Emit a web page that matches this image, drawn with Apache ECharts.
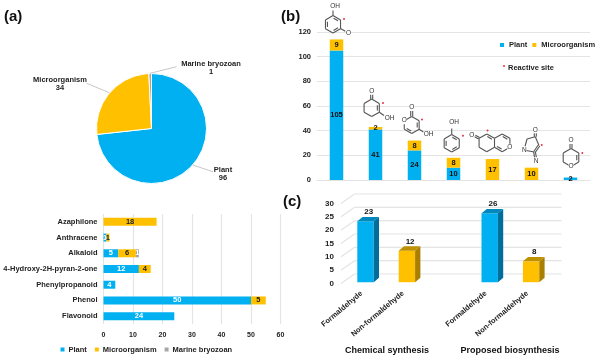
<!DOCTYPE html>
<html><head><meta charset="utf-8">
<style>html,body{margin:0;padding:0;background:#fff}#c{width:600px;height:360px}</style>
<script src="https://cdn.jsdelivr.net/npm/echarts@6/dist/echarts.min.js"></script>
</head><body><div id="c"></div>
<script>
const sourceNames = ['Plant', 'Microorganism', 'Marine bryozoan'];
const sourceTotals = [96, 34, 1];

const classNames = ['Flavonoid', 'Phenol', 'Phenylpropanoid', '4-Hydroxy-2H-pyran-2-one', 'Alkaloid', 'Anthracene', 'Azaphilone'];
const classPlant = [24, 50, 4, 12, 5, 1, 0];
const classMicro = [0, 5, 0, 4, 6, 1, 18];
const classMarine = [0, 0, 0, 0, 1, 0, 0];

const scaffoldNames = ['Scaffold 1', 'Scaffold 2', 'Scaffold 3', 'Scaffold 4', 'Scaffold 5', 'Scaffold 6', 'Scaffold 7'];
const scaffoldPlant = [105, 41, 24, 10, 0, 0, 2];
const scaffoldMicro = [9, 2, 8, 8, 17, 10, 0];

const synthesisNames = ['Formaldehyde', 'Non-formaldehyde', '', 'Formaldehyde', 'Non-formaldehyde'];
const synthesisValues = [23, 12, null, 26, 8];
const synthesisTicks = [0, 5, 10, 15, 20, 25, 30];

const BLUE = '#00B0F0', GOLD = '#FFC000', GREY = '#A6A6A6', GRID = '#E4E4E4', INK = '#1a1a1a';
const FONT = '"Liberation Sans", Arial, sans-serif';
const txt = (size, color) => ({ fontFamily: FONT, fontWeight: 'bold', fontSize: size, color: color || INK });
const hide0 = p => (p.value ? String(p.value) : '');

/* ---------- molecule line drawings (decoration) ---------- */
const BOND = { stroke: '#555', lineWidth: 1.1, fill: null };
const line = (a, b) => ({ type: 'line', silent: true, shape: { x1: a[0], y1: a[1], x2: b[0], y2: b[1] }, style: BOND, z: 5 });
const label = (s, x, y) => ({ type: 'text', silent: true, z: 6, style: { text: s, x, y, align: 'center', verticalAlign: 'middle', font: '6.5px ' + FONT, fill: '#333', backgroundColor: '#fff' } });
const dot = (x, y) => ({ type: 'circle', silent: true, z: 6, shape: { cx: x, cy: y, r: 1 }, style: { fill: '#E8324A' } });
function hexPts(cx, cy, r) {
  const pts = [];
  for (let i = 0; i < 6; i++) { const t = (-90 + 60 * i) * Math.PI / 180; pts.push([cx + r * Math.cos(t), cy + r * Math.sin(t)]); }
  return pts;
}
function inner(a, b, c, f) {
  const sh = p => [c[0] + (p[0] - c[0]) * f, c[1] + (p[1] - c[1]) * f];
  const A = sh(a), B = sh(b);
  const m = (u, v, k) => [u[0] + (v[0] - u[0]) * k, u[1] + (v[1] - u[1]) * k];
  return line(m(A, B, 0.1), m(A, B, 0.9));
}
function ring(cx, cy, r, dbl, skip) {
  const p = hexPts(cx, cy, r), out = [];
  for (let i = 0; i < 6; i++) {
    if (skip && skip.includes(i)) continue;
    out.push(line(p[i], p[(i + 1) % 6]));
    if (dbl.includes(i)) out.push(inner(p[i], p[(i + 1) % 6], [cx, cy], 0.74));
  }
  return out;
}
function dblBond(a, b, w) {
  const dx = b[0] - a[0], dy = b[1] - a[1], L = Math.hypot(dx, dy), nx = -dy / L * w, ny = dx / L * w;
  return [line([a[0] + nx, a[1] + ny], [b[0] + nx, b[1] + ny]), line([a[0] - nx, a[1] - ny], [b[0] - nx, b[1] - ny])];
}
const mols = [
  ...ring(333, 24.3, 8.7, [0, 2, 4]), line([333, 15.6], [333, 10.5]), label('OH', 335, 6.5),
  line([340.5, 28.6], [345.3, 31.2]), label('O', 348.5, 33), dot(344, 19),

  ...ring(371.7, 107.8, 8.8, [1]), ...dblBond([371.7, 99], [371.7, 94.5], 1), label('O', 371.7, 91),
  line([379.3, 112.2], [384, 115.5]), label('OH', 389.5, 118.7), dot(383, 103),

  ...ring(411.7, 125, 8.6, [1, 3]), ...dblBond([411.7, 116.4], [411.7, 111], 1), label('O', 411.7, 107.5),
  label('O', 404.2, 120.7),
  line([419.1, 129.3], [423.5, 132]), label('OH', 428.5, 134.3), dot(422, 119.5),

  ...ring(451.7, 143.3, 8.7, [0, 2, 4]), line([451.7, 134.6], [451.7, 128.5]), label('OH', 454, 122.5), dot(463, 135.7),

  ...ring(486.8, 142.8, 8.9, [0]), ...ring(502.2, 142.8, 8.9, [0, 3], [4]),
  ...dblBond([479.1, 138.3], [475, 136], 0.9), label('O', 471.7, 135), dot(487.5, 130.5),
  label('O', 509.9, 147.3),

  line([527, 139], [535.3, 136.7]), line([535.3, 136.7], [539, 145.5]), ...dblBond([539, 145.5], [534.5, 152], 0.9),
  line([534.5, 152], [526, 150.5]), line([527, 139], [525, 146.5]), ...dblBond([535.3, 136.7], [535.3, 132.5], 1),
  ...dblBond([534.5, 152], [535.5, 157.5], 0.9), label('O', 535.3, 129.8), label('N', 524.3, 150), label('N', 536, 161), dot(541.7, 145),

  ...ring(571, 157.6, 9, [1]), ...dblBond([571, 148.6], [571, 144], 1),
  label('O', 571, 140.5), label('O', 571, 166.6), dot(582.3, 153),
];

/* leader lines of the pie labels */
const leader = (a, b) => ({ type: 'line', silent: true, z: 4, shape: { x1: a[0], y1: a[1], x2: b[0], y2: b[1] }, style: { stroke: '#C8C8C8', lineWidth: 1 } });

const wallSeries = {
  type: 'custom', xAxisIndex: 2, yAxisIndex: 2, silent: true, z: 1,
  data: synthesisTicks.map(t => [0, t]),
  encode: { y: 1 },
  renderItem(params, api) {
    const y = api.coord([0, api.value(1)])[1];
    const x0 = params.coordSys.x, w = params.coordSys.width;
    const st = { stroke: GRID, lineWidth: 1.2, fill: null };
    return { type: 'group', children: [
      { type: 'line', shape: { x1: x0, y1: y, x2: x0 + 13.5, y2: y - 9.5 }, style: st },
      { type: 'line', shape: { x1: x0 + 13.5, y1: y - 9.5, x2: x0 + w + 13.5, y2: y - 9.5 }, style: st },
    ] };
  },
};

function box3d(front, side, top) {
  return function (params, api) {
    const c = api.coord([api.value(0), api.value(1)]);
    const b = api.coord([api.value(0), 0]);
    const L = c[0] - 4.4, R = c[0] + 12, T = c[1] - 0.8, B = b[1] - 1.3, dx = 5.3, dy = 4.4;
    return { type: 'group', children: [
      { type: 'rect', shape: { x: L, y: T, width: R - L, height: B - T }, style: { fill: front } },
      { type: 'polygon', shape: { points: [[R, T], [R + dx, T - dy], [R + dx, B - dy], [R, B]] }, style: { fill: side } },
      { type: 'polygon', shape: { points: [[L, T], [L + dx, T - dy], [R + dx, T - dy], [R, T]] }, style: { fill: top } },
      { type: 'text', style: { text: String(api.value(1)), x: c[0] + 7, y: T - dy - 5, align: 'center', verticalAlign: 'middle', font: 'bold 8px ' + FONT, fill: '#111' } },
    ] };
  };
}
const synthData = pick => synthesisValues.map((v, i) => [i, v]).filter(d => d[1] != null && pick(d[0]));

const option = {
  backgroundColor: '#fff',
  animation: false,
  title: [
    { text: '(a)', left: 4, top: 9, padding: 0, textStyle: txt(15, '#111') },
    { text: '(b)', left: 281, top: 9, padding: 0, textStyle: txt(15, '#111') },
    { text: '(c)', left: 283, top: 194, padding: 0, textStyle: txt(15, '#111') },
  ],
  legend: [
    { left: 60.5, top: 345.5, itemWidth: 4, itemHeight: 4, itemGap: 8, padding: 0, icon: 'rect',
      data: sourceNames, textStyle: { ...txt(7.5, '#222'), padding: [0, 0, 0, -1] } },
    { left: 500, top: 41, itemWidth: 4, itemHeight: 4, itemGap: 5, padding: 0, icon: 'rect',
      data: ['Plant', 'Microorganism'], textStyle: txt(7.5, '#222') },
  ],
  grid: [
    { left: 103.5, top: 214, width: 177, height: 110 },
    { left: 317, top: 32, width: 273, height: 148 },
    { left: 341, top: 203.5, width: 207, height: 80 },
  ],
  xAxis: [
    { gridIndex: 0, type: 'value', min: 0, max: 60, interval: 10, axisLine: { show: false }, axisTick: { show: false },
      splitLine: { lineStyle: { color: GRID, width: 1.2 } }, axisLabel: { ...txt(7, '#222'), margin: 8 } },
    { gridIndex: 1, type: 'category', data: scaffoldNames, axisLine: { lineStyle: { color: GRID, width: 1.2 } }, axisTick: { show: false }, axisLabel: { show: false } },
    { gridIndex: 2, type: 'category', data: synthesisNames, axisLine: { show: false }, axisTick: { show: false },
      axisLabel: { ...txt(7.5, '#222'), rotate: 40, interval: 0, margin: 9 } },
  ],
  yAxis: [
    { gridIndex: 0, type: 'category', data: classNames, axisLine: { show: false }, axisTick: { show: false },
      axisLabel: { ...txt(7.5, '#222'), margin: 6, interval: 0 } },
    { gridIndex: 1, type: 'value', min: 0, max: 120, interval: 20, axisLine: { show: false }, axisTick: { show: false },
      splitLine: { lineStyle: { color: GRID, width: 1.2 } }, axisLabel: { ...txt(7.5, '#222'), margin: 6 } },
    { gridIndex: 2, type: 'value', min: 0, max: 30, interval: 5, axisLine: { show: false }, axisTick: { show: false },
      splitLine: { show: false }, axisLabel: { ...txt(8, '#222'), margin: 7 } },
  ],
  series: [
    { type: 'pie', center: [151.5, 128.5], radius: [0, 55], startAngle: 90, clockwise: true,
      data: sourceNames.map((n, i) => ({ name: n, value: sourceTotals[i], itemStyle: { color: [BLUE, GOLD, GREY][i] } })),
      itemStyle: { borderColor: '#fff', borderWidth: 1 },
      label: { formatter: '{b}\n{c}', ...txt(7.5, '#222'), lineHeight: 8.5, align: 'center', overflow: 'none' },
      labelLine: { show: false },
      labelLayout(p) {
        const spots = { Plant: [223, 174], Microorganism: [60, 84], 'Marine bryozoan': [211, 68] };
        const s = spots[p.text.split('\n')[0]];
        return { x: s[0], y: s[1], align: 'center', verticalAlign: 'middle' };
      } },

    { name: 'Plant', type: 'bar', stack: 'a', xAxisIndex: 0, yAxisIndex: 0, barWidth: 8, data: classPlant, itemStyle: { color: BLUE },
      label: { show: true, position: 'inside', formatter: hide0, ...txt(7.5, '#fff') } },
    { name: 'Microorganism', type: 'bar', stack: 'a', xAxisIndex: 0, yAxisIndex: 0, barWidth: 8, data: classMicro, itemStyle: { color: GOLD },
      label: { show: true, position: 'inside', formatter: hide0, ...txt(7.5, '#222') } },
    { name: 'Marine bryozoan', type: 'bar', stack: 'a', xAxisIndex: 0, yAxisIndex: 0, barWidth: 8, data: classMarine, itemStyle: { color: GREY },
      label: { show: true, position: 'inside', formatter: hide0, ...txt(7.5, '#fff') } },

    { name: 'Plant', type: 'bar', stack: 'b', xAxisIndex: 1, yAxisIndex: 1, barWidth: 13.5, data: scaffoldPlant, itemStyle: { color: BLUE },
      label: { show: true, position: 'inside', formatter: hide0, ...txt(7.5, '#111') } },
    { name: 'Microorganism', type: 'bar', stack: 'b', xAxisIndex: 1, yAxisIndex: 1, barWidth: 13.5, data: scaffoldMicro, itemStyle: { color: GOLD },
      label: { show: true, position: 'inside', formatter: hide0, ...txt(7.5, '#111') } },

    wallSeries,
    { name: 'Formaldehyde', type: 'custom', xAxisIndex: 2, yAxisIndex: 2, z: 3, encode: { x: 0, y: 1 },
      data: synthData(i => i % 3 === 0), renderItem: box3d(BLUE, '#006E9C', '#0087BC') },
    { name: 'Non-formaldehyde', type: 'custom', xAxisIndex: 2, yAxisIndex: 2, z: 3, encode: { x: 0, y: 1 },
      data: synthData(i => i % 3 === 1), renderItem: box3d(GOLD, '#A87F00', '#BF9000') },
  ],
  graphic: { elements: [
    ...mols,
    leader([86.7, 83.3], [109.3, 92.7]),
    leader([176.7, 66.7], [150, 73.3]),
    leader([213, 171.7], [192.7, 165]),
    dot(504, 66),
    { type: 'text', silent: true, style: { text: 'Reactive site', x: 508, y: 67.5, verticalAlign: 'middle', font: 'bold 7.5px ' + FONT, fill: '#222' } },
    { type: 'text', silent: true, style: { text: 'Chemical synthesis', x: 387, y: 351, align: 'center', verticalAlign: 'middle', font: 'bold 9px ' + FONT, fill: '#111' } },
    { type: 'text', silent: true, style: { text: 'Proposed biosynthesis', x: 510, y: 351, align: 'center', verticalAlign: 'middle', font: 'bold 9px ' + FONT, fill: '#111' } },
  ] },
};
echarts.init(document.getElementById('c'), null, { renderer: 'canvas' }).setOption(option);
</script></body></html>
